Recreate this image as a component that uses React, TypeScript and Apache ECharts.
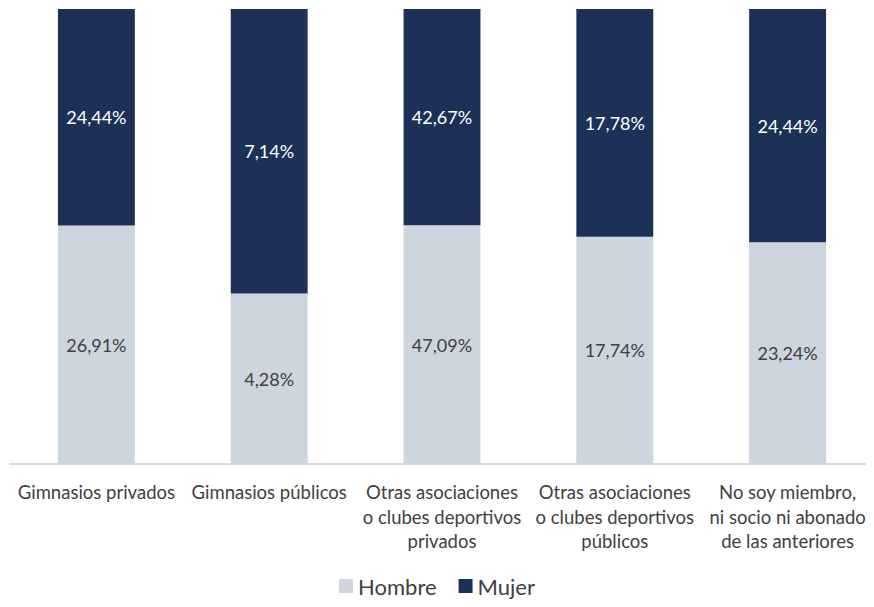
import React, { useEffect, useRef } from "react";
import * as echarts from "echarts";

const categories = [
  "Gimnasios privados",
  "Gimnasios públicos",
  "Otras asociaciones\no clubes deportivos\nprivados",
  "Otras asociaciones\no clubes deportivos\npúblicos",
  "No soy miembro,\nni socio ni abonado\nde las anteriores",
];
const hombre = [26.91, 4.28, 47.09, 17.74, 23.24];
const mujer = [24.44, 7.14, 42.67, 17.78, 24.44];

const FONT = "Lato";
const fmt = (v: number) => v.toFixed(2).replace(".", ",") + "%";

export default function App() {
  const ref = useRef<HTMLDivElement>(null);
  useEffect(() => {
    const chart = echarts.init(ref.current!, undefined, { renderer: "svg" });
    const hShare = hombre.map((h, i) => h / (h + mujer[i]));
    const mShare = mujer.map((m, i) => m / (hombre[i] + m));
    chart.setOption({
      animation: false,
      textStyle: { fontFamily: FONT },
      grid: { left: 10, right: 0, top: 9, bottom: 143, containLabel: false },
      legend: {
        top: 570,
        left: "center",
        itemWidth: 14,
        itemHeight: 14,
        itemGap: 22,
        icon: "rect",
        textStyle: { fontFamily: FONT, fontSize: 22, color: "#404040" },
        data: ["Hombre", "Mujer"],
      },
      xAxis: {
        type: "category",
        data: categories,
        axisLine: { lineStyle: { color: "#d9d9d9", width: 2 } },
        axisTick: { show: false },
        axisLabel: {
          interval: 0,
          color: "#404040",
          fontFamily: FONT,
          fontSize: 18.5,
          lineHeight: 24.5,
          margin: 16,
          align: "center",
        },
      },
      yAxis: { type: "value", min: 0, max: 1, show: false, splitLine: { show: false } },
      series: [
        {
          name: "Hombre",
          type: "bar",
          stack: "t",
          barWidth: "44.5%",
          data: hShare,
          itemStyle: { color: "#CDD5DF" },
          label: {
            show: true,
            position: "inside",
            color: "#404040",
            fontFamily: FONT,
            fontSize: 18,
            formatter: (p: any) => fmt(hombre[p.dataIndex]),
          },
        },
        {
          name: "Mujer",
          type: "bar",
          stack: "t",
          data: mShare,
          itemStyle: { color: "#1D3057" },
          label: {
            show: true,
            position: "inside",
            color: "#ffffff",
            fontFamily: FONT,
            fontSize: 18,
            formatter: (p: any) => fmt(mujer[p.dataIndex]),
          },
        },
      ],
    });
    return () => chart.dispose();
  }, []);
  return <div ref={ref} style={{ width: 874, height: 607, margin: -8 }} />;
}
